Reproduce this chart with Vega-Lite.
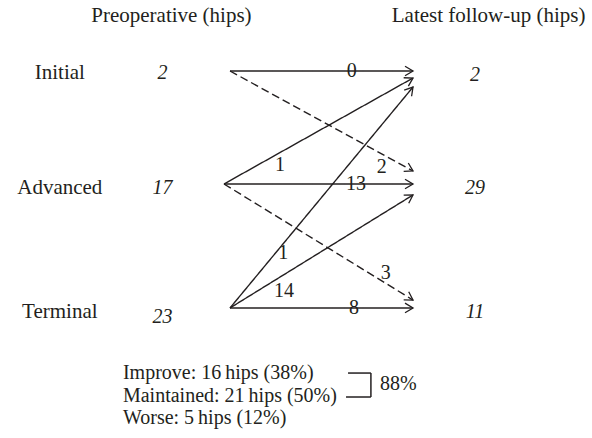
{
  "$schema": "https://vega.github.io/schema/vega-lite/v6.json",
  "width": 592,
  "height": 438,
  "autosize": {"type": "fit", "contains": "padding"},
  "padding": 0,
  "background": "white",
  "config": {
    "view": {"stroke": null},
    "text": {"font": "Liberation Serif", "fontSize": 20, "color": "#231f20", "baseline": "middle"}
  },
  "datasets": {
    "arrows": [
      {"from": "Initial", "to": "Initial", "n": 0, "kind": "maintained", "x0": 0, "y0": 0, "x1": 1, "y1": 0, "lx": 0.665, "ly": 0},
      {"from": "Initial", "to": "Advanced", "n": 2, "kind": "worse", "x0": 0, "y0": 0, "x1": 1, "y1": 0.885, "lx": 0.829, "ly": 0.847},
      {"from": "Advanced", "to": "Initial", "n": 1, "kind": "improve", "x0": -0.033, "y0": 1, "x1": 1, "y1": 0.062, "lx": 0.273, "ly": 0.832},
      {"from": "Advanced", "to": "Advanced", "n": 13, "kind": "maintained", "x0": -0.033, "y0": 1, "x1": 1, "y1": 1, "lx": 0.689, "ly": 1},
      {"from": "Advanced", "to": "Terminal", "n": 3, "kind": "worse", "x0": -0.033, "y0": 1, "x1": 1, "y1": 2.027, "lx": 0.851, "ly": 1.79},
      {"from": "Terminal", "to": "Initial", "n": 1, "kind": "improve", "x0": 0, "y0": 2.097, "x1": 1, "y1": 0.142, "lx": 0.291, "ly": 1.613},
      {"from": "Terminal", "to": "Advanced", "n": 14, "kind": "improve", "x0": 0, "y0": 2.097, "x1": 1, "y1": 1.097, "lx": 0.295, "ly": 1.944},
      {"from": "Terminal", "to": "Terminal", "n": 8, "kind": "maintained", "x0": 0, "y0": 2.097, "x1": 1, "y1": 2.097, "lx": 0.678, "ly": 2.094}
    ],
    "texts": [
      {"role": "header", "text": "Preoperative (hips)", "x": -0.32, "y": -0.487},
      {"role": "header", "text": "Latest follow-up (hips)", "x": 1.413, "y": -0.487},
      {"role": "stage", "text": "Initial", "x": -0.93, "y": 0.018},
      {"role": "stage", "text": "Advanced", "x": -0.93, "y": 1.035},
      {"role": "stage", "text": "Terminal", "x": -0.93, "y": 2.133},
      {"role": "count", "text": "2", "x": -0.369, "y": 0.018},
      {"role": "count", "text": "17", "x": -0.369, "y": 1.035},
      {"role": "count", "text": "23", "x": -0.369, "y": 2.177},
      {"role": "count", "text": "2", "x": 1.339, "y": 0.035},
      {"role": "count", "text": "29", "x": 1.339, "y": 1.035},
      {"role": "count", "text": "11", "x": 1.339, "y": 2.133},
      {"role": "summary", "text": "Improve: 16\u2009hips (38%)", "x": -0.585, "y": 2.673},
      {"role": "summary", "text": "Maintained: 21\u2009hips (50%)", "x": -0.585, "y": 2.876},
      {"role": "summary", "text": "Worse: 5\u2009hips (12%)", "x": -0.585, "y": 3.071},
      {"role": "summary", "text": "88%", "x": 0.82, "y": 2.77}
    ],
    "bracket": [
      {"x": 0.645, "y": 2.673, "x2": 0.77, "y2": 2.673},
      {"x": 0.77, "y": 2.673, "x2": 0.77, "y2": 2.885},
      {"x": 0.634, "y": 2.885, "x2": 0.77, "y2": 2.885}
    ]
  },
  "layer": [
    {
      "data": {"name": "arrows"},
      "mark": {"type": "rule", "color": "#231f20", "strokeWidth": 1.4},
      "encoding": {
        "x": {"field": "x0", "type": "quantitative", "axis": null, "scale": {"domain": [-1.2568, 1.9781], "nice": false, "zero": false}},
        "y": {"field": "y0", "type": "quantitative", "axis": null, "scale": {"domain": [-0.6283, 3.2478], "nice": false, "zero": false, "reverse": true}},
        "x2": {"field": "x1"},
        "y2": {"field": "y1"},
        "strokeDash": {"field": "kind", "type": "nominal", "legend": null, "scale": {"domain": ["improve", "maintained", "worse"], "range": [[1, 0], [1, 0], [8, 4]]}}
      }
    },
    {
      "data": {"name": "arrows"},
      "transform": [
        {"calculate": "(atan2(113 * (datum.y1 - datum.y0), 183 * (datum.x1 - datum.x0)) * 180 / PI + 360) % 360", "as": "ang"}
      ],
      "mark": {"type": "point", "shape": "M-1,-0.6L0,0L-1,0.6", "filled": false, "size": 256, "color": "#231f20", "strokeWidth": 1.3, "opacity": 1},
      "encoding": {
        "x": {"field": "x1", "type": "quantitative", "axis": null, "scale": {"domain": [-1.2568, 1.9781], "nice": false, "zero": false}},
        "y": {"field": "y1", "type": "quantitative", "axis": null, "scale": {"domain": [-0.6283, 3.2478], "nice": false, "zero": false, "reverse": true}},
        "angle": {"field": "ang", "type": "quantitative", "scale": null}
      }
    },
    {
      "data": {"name": "arrows"},
      "mark": {"type": "text", "fontSize": 20},
      "encoding": {
        "x": {"field": "lx", "type": "quantitative", "axis": null, "scale": {"domain": [-1.2568, 1.9781], "nice": false, "zero": false}},
        "y": {"field": "ly", "type": "quantitative", "axis": null, "scale": {"domain": [-0.6283, 3.2478], "nice": false, "zero": false, "reverse": true}},
        "text": {"field": "n", "type": "quantitative"}
      }
    },
    {
      "data": {"name": "texts"},
      "transform": [{"filter": "datum.role === 'header' || datum.role === 'stage'"}],
      "mark": {"type": "text", "fontSize": 21, "align": "center"},
      "encoding": {
        "x": {"field": "x", "type": "quantitative", "axis": null, "scale": {"domain": [-1.2568, 1.9781], "nice": false, "zero": false}},
        "y": {"field": "y", "type": "quantitative", "axis": null, "scale": {"domain": [-0.6283, 3.2478], "nice": false, "zero": false, "reverse": true}},
        "text": {"field": "text", "type": "nominal"}
      }
    },
    {
      "data": {"name": "texts"},
      "transform": [{"filter": "datum.role === 'count'"}],
      "mark": {"type": "text", "fontSize": 20, "fontStyle": "italic", "align": "center"},
      "encoding": {
        "x": {"field": "x", "type": "quantitative", "axis": null, "scale": {"domain": [-1.2568, 1.9781], "nice": false, "zero": false}},
        "y": {"field": "y", "type": "quantitative", "axis": null, "scale": {"domain": [-0.6283, 3.2478], "nice": false, "zero": false, "reverse": true}},
        "text": {"field": "text", "type": "nominal"}
      }
    },
    {
      "data": {"name": "texts"},
      "transform": [{"filter": "datum.role === 'summary'"}],
      "mark": {"type": "text", "fontSize": 20, "align": "left"},
      "encoding": {
        "x": {"field": "x", "type": "quantitative", "axis": null, "scale": {"domain": [-1.2568, 1.9781], "nice": false, "zero": false}},
        "y": {"field": "y", "type": "quantitative", "axis": null, "scale": {"domain": [-0.6283, 3.2478], "nice": false, "zero": false, "reverse": true}},
        "text": {"field": "text", "type": "nominal"}
      }
    },
    {
      "data": {"name": "bracket"},
      "mark": {"type": "rule", "color": "#231f20", "strokeWidth": 1.5},
      "encoding": {
        "x": {"field": "x", "type": "quantitative", "axis": null, "scale": {"domain": [-1.2568, 1.9781], "nice": false, "zero": false}},
        "y": {"field": "y", "type": "quantitative", "axis": null, "scale": {"domain": [-0.6283, 3.2478], "nice": false, "zero": false, "reverse": true}},
        "x2": {"field": "x2"},
        "y2": {"field": "y2"}
      }
    }
  ]
}
